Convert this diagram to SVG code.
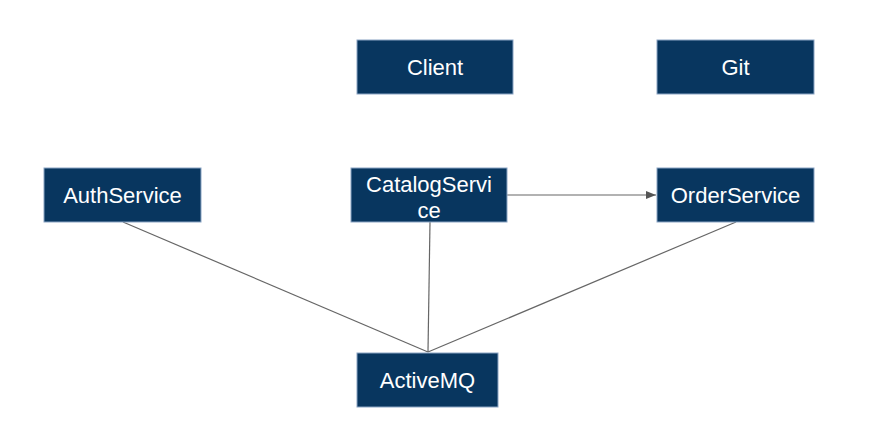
<svg xmlns="http://www.w3.org/2000/svg" width="870" height="444" viewBox="0 0 870 444">
<defs>
<style>
.box{fill:#08365f;stroke:#8aa4c4;stroke-width:1}
.t{fill:#ffffff;font-family:"Liberation Sans",Arial,sans-serif;font-size:22px;text-anchor:middle}
.c{stroke:#666666;stroke-width:1.2;fill:none}
</style>
<marker id="ah" markerWidth="10" markerHeight="8" refX="10" refY="4" orient="auto" markerUnits="userSpaceOnUse">
<path d="M0,0 L10,4 L0,8 Z" fill="#555555"/>
</marker>
</defs>
<rect width="870" height="444" fill="#ffffff"/>
<g id="connectors">
<line class="c" x1="507" y1="195" x2="656" y2="195" marker-end="url(#ah)"/>
<line class="c" x1="123" y1="222" x2="428" y2="352"/>
<line class="c" x1="430" y1="222" x2="428" y2="352"/>
<line class="c" x1="736" y1="222" x2="428" y2="352"/>
</g>
<g id="Client"><rect class="box" x="357" y="40" width="156" height="54"/><text class="t" x="435" y="75">Client</text></g>
<g id="Git"><rect class="box" x="657" y="40" width="157" height="54"/><text class="t" x="735.5" y="75">Git</text></g>
<g id="AuthService"><rect class="box" x="44" y="168" width="157" height="54"/><text class="t" x="122.5" y="203">AuthService</text></g>
<g id="CatalogService"><rect class="box" x="351" y="168" width="156" height="54"/><text class="t" x="429" y="192">CatalogServi</text><text class="t" x="429" y="218">ce</text></g>
<g id="OrderService"><rect class="box" x="657" y="168" width="157" height="54"/><text class="t" x="735.5" y="203">OrderService</text></g>
<g id="ActiveMQ"><rect class="box" x="357" y="353" width="141" height="54"/><text class="t" x="427.5" y="388">ActiveMQ</text></g>
</svg>
